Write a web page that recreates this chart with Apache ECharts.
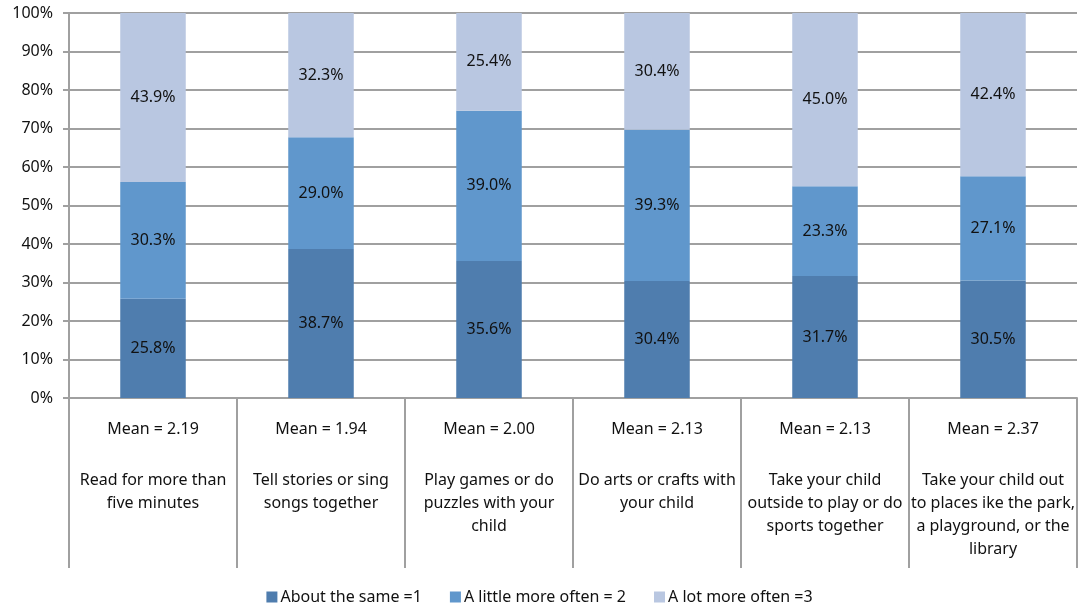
<!DOCTYPE html>
<html>
<head>
<meta charset="utf-8">
<script src="https://cdn.jsdelivr.net/npm/echarts@6/dist/echarts.min.js"></script>
<style>html,body{margin:0;padding:0;background:#fff}#c{width:1079px;height:608px}</style>
</head>
<body>
<div id="c"></div>
<script>
const categories = [
  "Read for more than\nfive minutes",
  "Tell stories or sing\nsongs together",
  "Play games or do\npuzzles with your\nchild",
  "Do arts or crafts with\nyour child",
  "Take your child\noutside to play or do\nsports together",
  "Take your child out\nto places ike the park,\na playground, or the\nlibrary"
];
const means = ["2.19", "1.94", "2.00", "2.13", "2.13", "2.37"];
const seriesNames = ["About the same =1", "A little more often = 2", "A lot more often =3"];
const aboutSame = [25.8, 38.7, 35.6, 30.4, 31.7, 30.5];
const littleMore = [30.3, 29.0, 39.0, 39.3, 23.3, 27.1];
const lotMore = [43.9, 32.3, 25.4, 30.4, 45.0, 42.4];
const yTicks = [0, 10, 20, 30, 40, 50, 60, 70, 80, 90, 100];

const colors = ["#4f7dae", "#6097cc", "#b9c7e1"];
const font = "'Noto Sans', 'Open Sans', sans-serif";
const fs = 16;
const chart = echarts.init(document.getElementById('c'), null, {renderer: 'canvas'});

const mkSeries = (name, data, i) => ({
  name, type: 'bar', stack: 'total', data,
  barWidth: '39%',
  itemStyle: {color: colors[i]},
  label: {
    show: true, position: 'inside', color: '#111', fontSize: fs, fontFamily: font,
    padding: [4, 0, 0, 0],
    formatter: p => p.value.toFixed(1) + '%'
  },
  emphasis: {disabled: true}
});

chart.setOption({
  animation: false,
  grid: {left: 69, right: 2, top: 13, bottom: 210, containLabel: false},
  legend: {
    top: 584, left: 'center', itemWidth: 11, itemHeight: 11, itemGap: 28,
    icon: 'rect',
    textStyle: {fontSize: fs, fontFamily: font, color: '#111', padding: [0, 0, 0, -2]},
    data: seriesNames
  },
  xAxis: {
    type: 'category',
    data: categories.map((c, i) => ({value: c, mean: means[i]})),
    axisLine: {lineStyle: {color: '#a0a0a0', width: 2}},
    axisTick: {show: true, length: 170, interval: 0, lineStyle: {color: '#a0a0a0', width: 2}},
    axisLabel: {
      interval: 0, margin: 20, fontFamily: font, fontSize: fs, color: '#111',
      formatter: (v, i) => '{m|Mean = ' + means[i] + '}\n{g| }\n' + v.split('\n').map(s => '{t|' + s + '}').join('\n'),
      rich: {
        m: {fontSize: fs, fontFamily: font, color: '#111', lineHeight: 23},
        g: {fontSize: fs, fontFamily: font, lineHeight: 28},
        t: {fontSize: fs, fontFamily: font, color: '#111', lineHeight: 23}
      }
    }
  },
  yAxis: {
    type: 'value', min: 0, max: 100, interval: 10,
    axisLine: {show: true, lineStyle: {color: '#a0a0a0', width: 2}},
    axisTick: {show: true, length: 6, lineStyle: {color: '#a0a0a0', width: 2}},
    splitLine: {lineStyle: {color: '#a0a0a0', width: 2}},
    axisLabel: {
      margin: 16, fontFamily: font, fontSize: fs, color: '#111',
      formatter: v => yTicks.includes(v) ? v + '%' : ''
    }
  },
  series: [
    mkSeries(seriesNames[0], aboutSame, 0),
    mkSeries(seriesNames[1], littleMore, 1),
    mkSeries(seriesNames[2], lotMore, 2)
  ]
});
</script>
</body>
</html>
